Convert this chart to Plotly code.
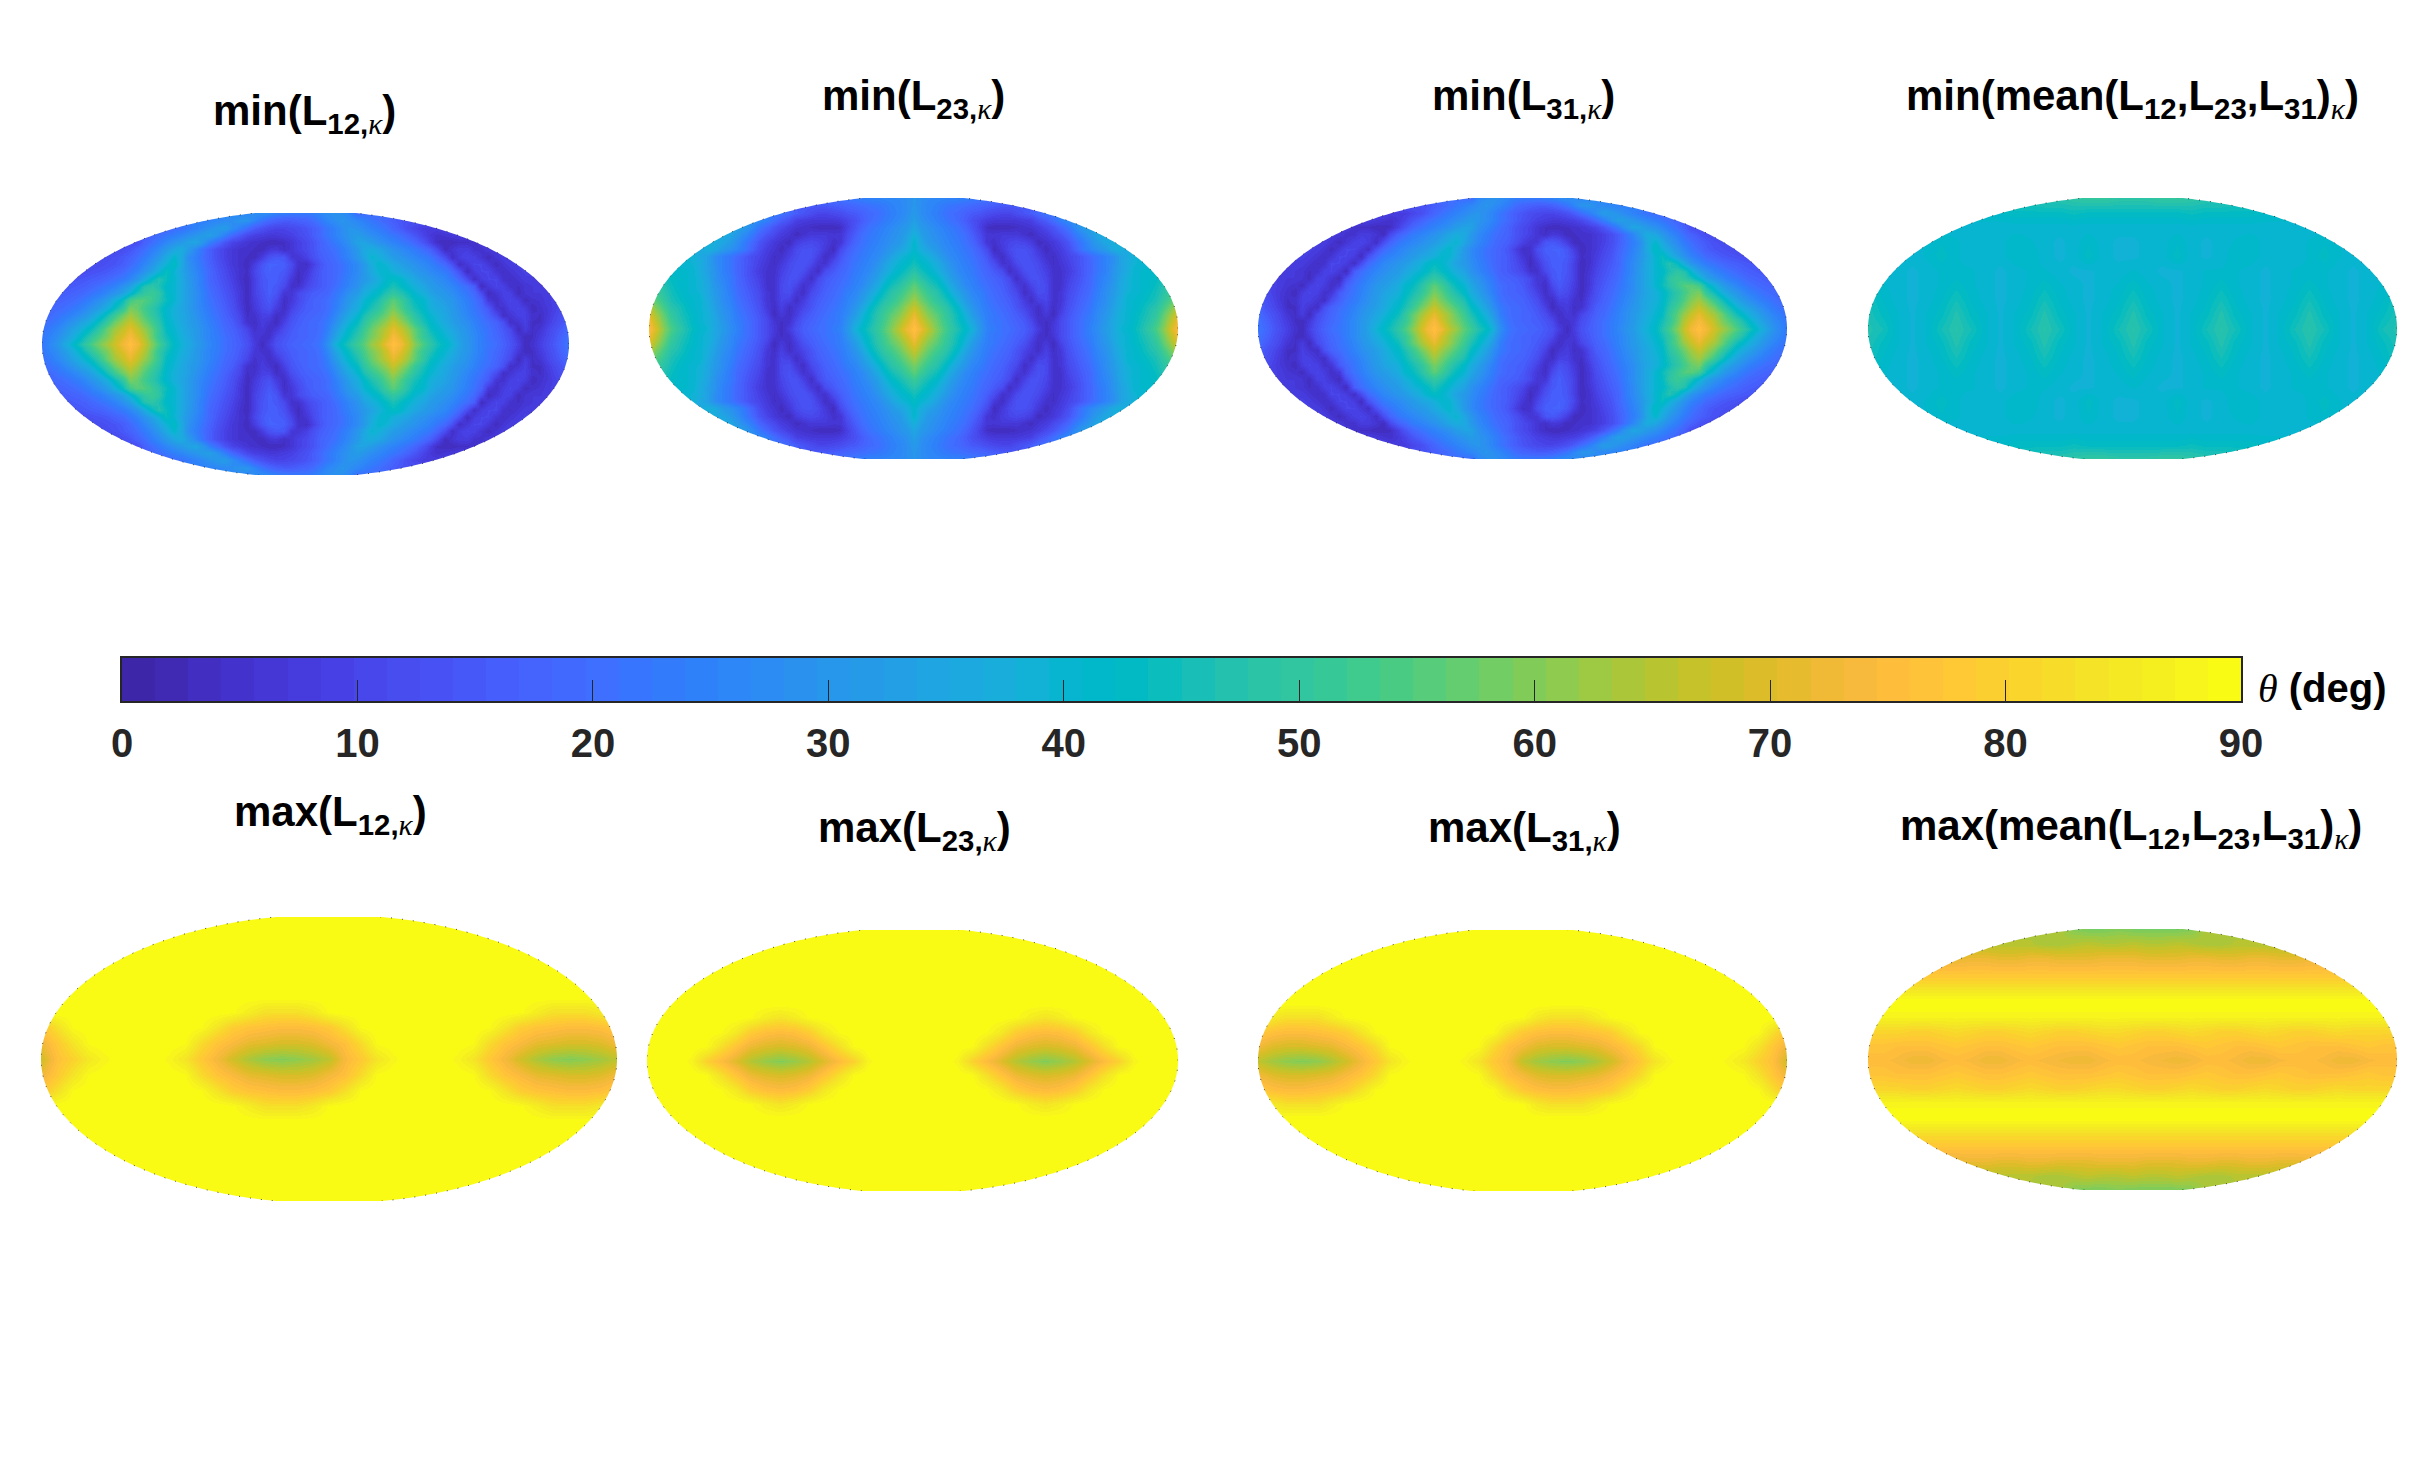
import numpy as np
import plotly.graph_objects as go

# ---------- values (degrees); rows run from the top edge to the equator ----------
tick_values = [0, 10, 20, 30, 40, 50, 60, 70, 80, 90]
titles = [
    ("min", "L12"), ("min", "L23"), ("min", "L31"), ("min", "mean"),
    ("max", "L12"), ("max", "L23"), ("max", "L31"), ("max", "mean"),
]

min_L12_top = [
    [26]*29 + [28,28,27,25,24,23,23,23,24,26,28,29,28,26] + [20]*30,
    [24]*22 + [24,25,26,27,28,30,30,26,22,19,17,16,16,17,18,20,23,26,28,30,28,26,24,22,20,18,16,14] + [13]*23,
    [18]*18 + [20,21,23,25,27,29,31,32,28,24,20,16,13,11,10,10,11,12,14,16,19,22,25,28,30,29,27,25,23,21,18,15,12,10,8,8,8] + [10]*18,
    [14]*15 + [18,20,22,24,26,28,30,32,33,29,24,19,15,11,9,8,7,7,8,9,11,13,16,19,22,25,28,30,32,30,28,26,24,22,20,17,14,10,7,5,6,7,8,9,10] + [10]*13,
    [12]*14 + [17,20,23,26,29,31,34,35,30,24,19,14,10,8,6,5, 4,3,3,4,6,9,11,14,17,20, 23,26,29,34,34,32,29,27,25,23, 21,18,14,9,4,3,3,4,4,5, 7,8,8,8,8,8,8,8,8,8, 8,8,8],
    [10]*10 + [10,12,14,17,20, 24,27,31,35,37,32,26,21,16,12,9,7,5,5,4, 3,6,7,4,6,9,11,14,17,19, 21,24,27,31,36,37,35,32,29,27, 25,23,20,17,11,3,6,8,8,5, 5,7,8,8,8,8,8,8,8,8, 8,8,8],
    [10,10,10,10,10,10,10,10,11,12, 13,15,17,20,23,27,31,36,41,36, 28,24,20,16,12,9,7,5,4,3, 8,13,15,14,7,6,9,13,16,18, 20,23,26,30,35,40,38,35,32,30, 28,26,24,22,18,12,4,8,10,9, 6,3,6,8,9,9,9,9,9,9, 9,9,9],
    [10,10,10,10,10,10,10,11,12,13, 14,16,19,22,26,30,35,39,43,36, 29,25,21,17,13,10,7,5,3,8, 14,17,17,16,12,5,4,9,14,17, 19,21,24,27,31,37,41,39,36,33, 31,29,27,25,22,19,13,4,7,10, 10,7,3,6,8,9,9,9,9,9, 9,9,9],
    [11,11,11,11,11,11,12,13,14,15, 17,19,22,25,29,34,39,44,40,35, 30,26,22,18,14,11,8,5,4,10, 15,17,16,15,10,4,6,11,15,17, 19,21,24,27,31,36,40,41,38,36, 34,31,29,27,25,23,19,13,3,8, 10,10,6,4,6,8,9,9,9,9, 9,9,9],
    [12,12,12,12,13,14,15,16,17,19, 21,23,26,30,36,43,47,44,40,36, 31,27,23,18,15,12,9,5,3,9, 14,16,16,13,7,3,8,12,15,17, 19,22,25,28,31,34,38,41,43,41, 38,35,32,30,28,26,23,19,12,4, 8,10,10,5,4,6,8,8,8,8, 8,8,8],
    [13,13,13,14,15,16,17,19,21,23, 25,29,33,40,47,49,46,42,40,36, 32,27,23,19,16,13,10,6,3,9, 14,16,15,11,5,5,10,13,15,17, 20,23,26,29,34,37,40,43,46,43, 40,38,35,32,30,28,26,23,20,16, 3,7,10,9,5,4,6,7,8,8, 9,10,11],
    [14,14,15,16,17,18,20,22,24,27, 30,34,40,46,50,52,49,43,40,36, 32,28,24,20,17,14,11,7,3,9, 13,16,14,6,6,11,14,16,17,18, 22,25,29,32,37,40,43,47,50,47, 44,40,38,34,32,30,28,25,22,19, 12,3,6,9,9,3,6,7,7,8, 9,10,12],
    [15,16,17,18,19,21,23,26,29,33, 38,44,53,56,55,52,48,44,40,36, 32,28,24,21,18,15,12,7,3,8, 12,15,11,4,7,11,15,17,18,20, 23,27,31,35,40,43,47,52,56,52, 47,43,41,37,34,32,30,27,24,21, 17,7,4,8,10,8,3,5,6,8, 9,11,14],
    [17,18,19,20,22,24,27,30,34,38, 44,50,59,57,53,49,45,41,38,35, 32,28,25,22,19,16,13,8,3,7, 11,13,8,4,9,13,16,17,18,20, 24,28,33,37,42,46,50,55,59,54, 49,45,42,38,36,34,31,28,25,22, 19,15,6,5,9,10,8,3,5,7, 9,12,15],
    [19,19,21,23,25,28,31,35,40,46, 52,58,63,60,55,50,46,41,38,36, 33,29,26,23,20,17,14,10,4,5, 9,9,4,6,12,15,17,18,19,21, 26,31,36,40,46,50,54,58,63,58, 53,48,44,40,38,35,32,29,26,23, 21,17,12,4,6,9,9,5,4,7, 10,13,16],
    [20,21,23,26,29,33,36,40,46,52, 58,63,67,63,58,53,48,42,39,36, 33,30,27,24,21,18,16,11,5,4, 8,6,3,9,14,16,18,19,20,23, 28,34,39,43,49,54,58,62,67,62, 57,51,46,42,39,36,33,30,28,25, 22,20,17,13,4,6,9,4,4,8, 11,14,18],
    [21,23,26,29,33,37,41,45,52,58, 63,67,71,67,62,56,50,43,40,37, 34,31,28,25,22,19,17,14,10,5, 7,4,7,12,15,17,18,19,20,24, 31,37,42,46,52,57,62,66,71,67, 62,56,50,44,41,38,35,32,29,26, 23,21,18,15,11,3,8,4,6,10, 13,16,20],
    [22,25,28,32,36,41,46,51,56,60, 66,70,74,70,65,57,50,45,41,38, 35,31,28,25,23,20,18,15,12,7, 5,5,11,14,16,17,18,19,21,26, 34,40,44,49,54,59,63,68,74,70, 65,57,51,47,43,40,37,33,30,27, 24,21,19,16,13,7,3,4,8,11, 14,18,21],
    [22,26,30,35,40,45,50,55,60,64, 68,73,76,73,67,60,53,47,42,39, 36,32,29,26,23,20,18,16,13,8, 3,8,13,15,17,18,19,20,22,28, 38,43,47,52,56,62,66,72,76,73, 67,60,54,49,45,42,39,34,30,27, 24,22,20,17,14,9,3,5,9,12, 15,19,22],
]

min_L23_left = [
    [34,34,34,33,33,32,31,30,28,27, 26,25,24,23,23,22,22,21,21,20, 20,20,20,20,20,21,21,22,23,24, 25,25,26,26,27,28,30],
    [36,36,36,35,34,33,32,30,29,27, 25,24,23,22,21,20,19,18,17,16, 15,15,15,15,15,16,17,18,19,20, 21,22,23,25,26,28,30],
    [38,38,37,36,35,34,33,31,30,28, 26,25,23,21,20,18,24,23,22,19, 16,14,12,10,10,11,12,14,15,17, 19,20,22,24,26,28,31],
    [38,38,38,37,36,35,34,32,31,29, 27,25,32,30,29,27,24,20,16,13, 9,8,7,7,7,7,8,10,13,16, 19,21,23,25,27,29,33],
    [40,40,39,38,37,36,35,33,31,29, 27,36,34,31,27,22,18,14,11,8, 6,5,4,3,3,3,4,9,14,18, 21,23,25,27,29,31,35],
    [40,40,40,39,38,37,36,34,38,38, 37,35,31,27,23,18,14,11,8,6, 3,5,7,7,7,6,6,11,16,20, 22,24,26,28,30,33,38],
    [41,41,40,40,39,38,37,35,38,37, 35,32,28,23,19,14,10,7,5,3, 8,10,11,10,8,5,6,13,18,21, 23,25,27,29,31,35,41],
    [42,42,41,41,40,39,38,36,38,36, 32,29,26,22,17,12,8,6,3,7, 11,13,13,11,7,3,11,16,20,22, 24,26,28,31,34,37,41],
    [43,42,42,41,41,40,39,36,33,28, 25,22,19,15,12,10,7,4,5,9, 12,14,13,9,4,7,14,18,21,23, 25,27,30,34,38,40,43],
    [44,43,42,42,41,40,39,37,33,28, 25,22,18,15,12,9,6,4,7,11, 13,14,11,6,5,12,16,19,22,24, 26,29,33,37,40,42,45],
    [47,45,43,42,41,41,40,37,33,29, 25,22,18,15,11,8,5,5,9,12, 14,12,7,4,12,15,18,20,23,25, 27,31,35,39,42,45,48],
    [50,47,45,43,42,41,40,38,34,29, 26,23,19,15,12,9,5,5,10,13, 13,9,4,11,15,17,19,21,24,26, 29,33,38,42,45,48,52],
    [54,50,47,44,42,41,40,38,35,30, 27,23,19,16,13,10,5,5,11,13, 10,5,8,13,16,18,20,22,25,27, 31,36,41,45,48,52,56],
    [57,52,48,45,43,41,40,39,35,31, 28,24,20,17,14,11,6,5,11,12, 7,4,11,14,17,19,21,24,26,30, 34,39,44,48,51,55,59],
    [61,55,50,46,44,42,41,40,36,32, 28,25,21,18,15,12,6,5,10,9, 4,8,13,16,18,20,22,25,28,32, 37,43,47,50,54,58,63],
    [66,59,53,48,46,43,41,40,37,33, 29,26,22,19,16,13,7,4,9,4, 7,10,14,17,19,21,23,26,30,35, 41,46,50,53,57,62,67],
    [70,63,56,50,47,44,42,40,38,34, 30,27,23,20,17,14,9,3,7,4, 8,13,16,18,20,22,24,27,32,38, 43,48,52,56,60,65,71],
    [73,66,58,52,48,45,42,40,38,35, 31,27,24,21,18,15,11,6,4,5, 11,15,17,19,21,22,24,29,35,40, 44,49,53,58,63,68,74],
    [75,69,60,54,50,46,43,41,39,35, 32,28,25,21,18,15,11,7,3,8, 13,16,18,20,21,23,25,30,38,42, 46,50,55,60,66,72,76],
]

min_mean_top = [
    [46]*10 + [47,47,48,48,49,50,50,49,49,49,50,50,49,48,48,47,47] + [46]*10,
    [42]*10 + [43,43,43,43,44,43,43,43,43,43,43,43,44,43,43,43,43] + [42]*10,
    [40]*37,
    [40,40,40,40,41,42,41,40,40,40,42,41,40,39,40,42,40,39,39,40,40,42,40,39,40,41,42,40,40,40,41,42,41,40,40,40,40],
    [41,41,41,40,41,43,41,40,40,40,42,42,40,39,40,43,40,39,39,40,40,43,40,39,40,42,42,40,40,40,41,43,41,40,41,41,41],
    [41,41,40,39,40,41,41,41,40,39,40,41,41,40,39,39,40,40,41,40,39,39,40,41,41,41,40,39,40,41,41,41,40,39,40,41,41],
    [43,41,40,39,40,41,43,41,40,39,40,41,43,41,40,39,40,41,43,41,40,39,40,41,43,41,40,39,40,41,43,41,40,39,40,41,43],
    [45,42,40,39,40,42,45,42,40,39,40,42,45,42,40,39,40,42,45,42,40,39,40,42,45,42,40,39,40,42,45,42,40,39,40,42,45],
    [46,43,41,39,41,43,47,43,41,39,41,43,47,43,41,39,41,43,47,43,41,39,41,43,47,43,41,39,41,43,47,43,41,39,41,43,46],
    [47,45,41,39,41,45,48,45,41,39,41,45,48,45,41,39,41,45,48,45,41,39,41,45,48,45,41,39,41,45,48,45,41,39,41,45,47],
]

max_L12_top = [
    [90]*37, [90]*37, [90]*37, [90]*37, [90]*37, [90]*37,
    [87,90,90,90,90,90,90,90,90,90,90,90,89,86,83,83,83,85,89,90,90,90,90,90,90,90,90,90,90,90,89,86,83,83,83,85,89],
    [77,83,89,90,90,90,90,90,90,90,89,84,79,77,76,75,75,76,78,83,89,90,90,90,90,90,90,90,89,84,79,77,76,75,75,76,78],
    [72,78,84,89,90,90,90,90,90,89,82,77,74,71,70,69,69,70,73,76,82,89,90,90,90,90,90,89,82,77,74,71,70,69,69,70,73],
    [68,76,80,85,88,90,90,90,88,84,78,73,68,64,61,60,61,63,66,74,78,84,88,90,90,90,88,84,78,73,68,64,61,60,61,63,66],
]

max_L23_left = [
    [90]*19, [90]*19, [90]*19, [90]*19, [90]*19, [90]*19,
    [90,90,90,90,90,90,90,89,86,84,86,89,90,90,90,90,90,90,90],
    [90,90,90,90,90,89,85,79,76,75,76,79,85,89,90,90,90,90,90],
    [90,90,90,90,89,83,77,72,70,69,70,72,77,83,89,90,90,90,90],
    [90,90,90,88,80,75,70,65,62,60,62,65,70,75,80,88,90,90,90],
]

max_mean_top = [
    [64]*14 + [60,59,59,60,59,59,59,59,60] + [64]*14,
    [65]*12 + [64,64,65,66,65,65,66,65,65,66,65,64,64] + [65]*12,
    [72,72,72,72,72,71,71,72,72,71,71,72,72,71,71,71,72,72,72,71,71,71,72,72,71,71,72,72,71,71,72,72,72,72,72,72,72],
    [77]*37,
    [83]*37,
    [90]*37,
    [88]*37,
    [81,81,81,80,80,81,82,81,80,80,81,82,81,80,80,81,82,82,81,80,80,81,82,81,80,80,81,82,81,80,80,81,82,81,81,81,81],
    [77,77,76,76,76,77,78,77,76,76,77,78,77,76,76,76,77,78,77,76,76,76,77,78,77,76,76,77,78,77,76,76,76,77,78,77,77],
    [75,75,74,72,72,74,75,74,72,72,74,75,74,73,72,72,74,75,75,74,73,72,73,75,75,74,72,72,74,75,75,74,72,72,74,75,75],
]

parula_rgb = [
    (0.2422,0.1504,0.6603),(0.2504,0.1650,0.7076),(0.2578,0.1818,0.7511),(0.2647,0.1978,0.7952),
    (0.2706,0.2147,0.8364),(0.2751,0.2342,0.8710),(0.2783,0.2559,0.8991),(0.2803,0.2782,0.9221),
    (0.2813,0.3006,0.9414),(0.2810,0.3228,0.9579),(0.2795,0.3447,0.9717),(0.2760,0.3667,0.9829),
    (0.2699,0.3892,0.9906),(0.2602,0.4123,0.9952),(0.2440,0.4358,0.9988),(0.2206,0.4603,0.9973),
    (0.1963,0.4847,0.9892),(0.1834,0.5074,0.9798),(0.1786,0.5289,0.9682),(0.1764,0.5499,0.9520),
    (0.1687,0.5703,0.9359),(0.1540,0.5902,0.9218),(0.1460,0.6091,0.9079),(0.1380,0.6276,0.8973),
    (0.1248,0.6459,0.8883),(0.1113,0.6635,0.8763),(0.0952,0.6798,0.8598),(0.0689,0.6948,0.8394),
    (0.0297,0.7082,0.8163),(0.0036,0.7203,0.7917),(0.0067,0.7312,0.7660),(0.0433,0.7411,0.7394),
    (0.0964,0.7500,0.7120),(0.1408,0.7584,0.6842),(0.1717,0.7670,0.6554),(0.1938,0.7758,0.6251),
    (0.2161,0.7843,0.5923),(0.2470,0.7918,0.5567),(0.2906,0.7973,0.5188),(0.3406,0.8008,0.4789),
    (0.3909,0.8029,0.4354),(0.4456,0.8024,0.3909),(0.5044,0.7993,0.3480),(0.5616,0.7942,0.3045),
    (0.6174,0.7876,0.2612),(0.6720,0.7793,0.2227),(0.7242,0.7698,0.1910),(0.7738,0.7598,0.1646),
    (0.8203,0.7498,0.1535),(0.8634,0.7406,0.1596),(0.9035,0.7330,0.1774),(0.9393,0.7288,0.2100),
    (0.9728,0.7298,0.2394),(0.9956,0.7434,0.2371),(0.9970,0.7659,0.2199),(0.9952,0.7893,0.2028),
    (0.9892,0.8136,0.1885),(0.9786,0.8386,0.1766),(0.9676,0.8639,0.1643),(0.9610,0.8890,0.1537),
    (0.9597,0.9135,0.1423),(0.9628,0.9373,0.1265),(0.9691,0.9606,0.1064),(0.9769,0.9839,0.0805),
]

# ---------- page layout (pixels in the 2436x1460 page) ----------
W, H = 2436, 1460
panel_boxes = [
    (42, 569, 213, 475), (649, 1178, 198, 459), (1258, 1787, 198, 459), (1868, 2397, 198, 459),
    (41, 617, 917, 1201), (647, 1178, 930, 1191), (1258, 1787, 930, 1191), (1868, 2397, 929, 1190),
]
title_pos = [
    (304, 114), (913, 98), (1523, 98), (2132, 98),
    (330, 814), (914, 830), (1524, 830), (2131, 828),
]
bar_box = (122, 2241, 658, 701)
INK = "#262626"
SANS = "Liberation Sans"


def mirror_rows(top):
    """The maps are symmetric about the equator: top rows + the same rows reversed."""
    return list(top) + list(top[-2::-1])


def mirror_cols(left):
    return [row + row[-2::-1] for row in left]


def flip_cols(rows):
    return [row[::-1] for row in rows]


maps = [
    mirror_rows(min_L12_top),
    mirror_rows(mirror_cols(min_L23_left)),
    mirror_rows(flip_cols(min_L12_top)),
    mirror_rows(min_mean_top),
    mirror_rows(max_L12_top),
    mirror_rows(mirror_cols(max_L23_left)),
    mirror_rows(flip_cols(max_L12_top)),
    mirror_rows(max_mean_top),
]
for m in maps:
    assert len({len(r) for r in m}) == 1, [len(r) for r in m]

steps = []
for i, c in enumerate(parula_rgb):
    col = "rgb(%d,%d,%d)" % tuple(round(v * 255) for v in c)
    steps += [[i / 64, col], [(i + 1) / 64, col]]


def outside_ellipse_path():
    # white mask around the map: the sphere's outline, with flat caps where the axes clip it
    t = np.linspace(0, 2 * np.pi, 361)[:-1]
    ex = 180 * np.cos(t)
    ey = 91.6 * np.sin(t)
    outer = "M-200,-110L200,-110L200,110L-200,110Z"
    inner = "M" + "L".join(f"{a:.3f},{b:.3f}" for a, b in zip(ex, ey)) + "Z"
    return outer + inner


fig = go.Figure()
shapes, annotations = [], []
layout_axes = {}
for n, (z, box) in enumerate(zip(maps, panel_boxes), start=1):
    sfx = "" if n == 1 else str(n)
    fig.add_trace(go.Heatmap(
        x=np.linspace(-180, 180, len(z[0])), y=np.linspace(-90, 90, len(z)), z=z,
        zsmooth="best", coloraxis="coloraxis",
        xaxis=f"x{sfx}", yaxis=f"y{sfx}", hoverinfo="skip",
    ))
    x0, x1, y0, y1 = box
    layout_axes[f"xaxis{sfx}"] = dict(domain=[x0 / W, x1 / W], range=[-180, 180], visible=False,
                                      anchor=f"y{sfx}", fixedrange=True, automargin=False)
    layout_axes[f"yaxis{sfx}"] = dict(domain=[1 - y1 / H, 1 - y0 / H], range=[-90, 90], visible=False,
                                      anchor=f"x{sfx}", fixedrange=True, automargin=False)
    shapes.append(dict(type="path", xref=f"x{sfx}", yref=f"y{sfx}", path=outside_ellipse_path(),
                       fillcolor="white", line=dict(width=1, color="rgba(0,0,0,0.7)", dash="1px,10px"),
                       layer="above"))

# colour bar: one strip of the 64 colour levels on its own axis
bar_levels = (np.arange(64) + 0.5) * 90 / 64
fig.add_trace(go.Heatmap(x=bar_levels, y=[0.5], z=[bar_levels.tolist()], coloraxis="coloraxis",
                         xaxis="x9", yaxis="y9", hoverinfo="skip", ygap=0))
bx0, bx1, by0, by1 = bar_box
layout_axes["xaxis9"] = dict(
    domain=[bx0 / W, bx1 / W], range=[0, 90], anchor="y9", side="bottom", fixedrange=True, automargin=False,
    tickmode="array", tickvals=tick_values, ticktext=[str(v) for v in tick_values],
    ticks="inside", ticklen=21, tickwidth=1, tickcolor=INK, ticklabelstandoff=6,
    showgrid=False, zeroline=False, showline=True, mirror=True, linecolor=INK, linewidth=1.5,
    tickfont=dict(family=SANS, size=40, color=INK, weight=700),
)
layout_axes["yaxis9"] = dict(
    domain=[1 - by1 / H, 1 - by0 / H], range=[0, 1], anchor="x9", fixedrange=True, automargin=False,
    showticklabels=False, ticks="", showgrid=False, zeroline=False,
    showline=True, mirror=True, linecolor=INK, linewidth=1.5,
)

KAPPA = "<span style=\"font-family:'Liberation Serif';font-weight:400\"><i>κ</i></span>"
for (fn, name), (tx, ty) in zip(titles, title_pos):
    if name == "mean":
        txt = (f"{fn}(mean(L<sub>12</sub>,L<sub>23</sub>,L<sub>31</sub>)<sub>{KAPPA}</sub>)")
    else:
        txt = f"{fn}(L<sub>{name[1:]},{KAPPA}</sub>)"
    annotations.append(dict(text=txt, x=tx / W, y=1 - ty / H, xref="paper", yref="paper",
                            xanchor="center", yanchor="middle", showarrow=False,
                            font=dict(family=SANS, size=42, color="black", weight=700)))

annotations.append(dict(
    text="<span style=\"font-family:'Liberation Serif';font-weight:400\"><i>θ</i></span> (deg)",
    x=2256 / W, y=1 - 688 / H, xref="paper", yref="paper", xanchor="left", yanchor="middle",
    showarrow=False, font=dict(family=SANS, size=40, color="black", weight=700)))

fig.update_layout(
    width=W, height=H, margin=dict(l=0, r=0, t=0, b=0),
    paper_bgcolor="white", plot_bgcolor="white", showlegend=False,
    shapes=shapes, annotations=annotations,
    coloraxis=dict(cmin=0, cmax=90, colorscale=steps, showscale=False),
    **layout_axes,
)

fig.write_html("out.html", config={"displayModeBar": False},
               post_script="document.body.style.margin='0';")
